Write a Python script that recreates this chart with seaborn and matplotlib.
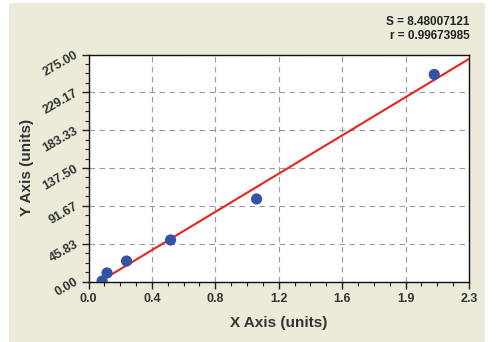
import numpy as np
import pandas as pd
import matplotlib
matplotlib.use("Agg")
import matplotlib.pyplot as plt
from matplotlib.patches import Rectangle
from matplotlib.ticker import AutoMinorLocator
import seaborn as sns

# ---- data ----
x_vals = [0.082, 0.112, 0.23, 0.496, 1.016, 2.09]
y_vals = [0.5, 10.3, 24.8, 50.3, 100.0, 250.8]
fit_x_range = [0.07, 2.3]
x_tick_labels = ["0.0", "0.4", "0.8", "1.2", "1.6", "1.9", "2.3"]
y_tick_labels = ["0.00", "45.83", "91.67", "137.50", "183.33", "229.17", "275.00"]
stats_lines = ["S = 8.48007121", "r = 0.99673985"]
x_max = 2.3
y_max = 275.0

sns.set_style("ticks")
plt.rcParams["font.family"] = ["Liberation Sans", "DejaVu Sans"]

fig = plt.figure(figsize=(5.04, 3.42), dpi=100, facecolor="white")
fig.patches.append(Rectangle((9 / 504, 0), (485 - 9) / 504, 339 / 342,
                             transform=fig.transFigure, facecolor="#ECEAD8",
                             edgecolor="none", zorder=-10))
ax = fig.add_axes([88.5 / 504, 1 - 281.5 / 342, (469 - 88.5) / 504, (281.5 - 54.5) / 342])
ax.set_zorder(1)
ax.set_facecolor("white")

df = pd.DataFrame({"x": x_vals, "y": y_vals})
slope, intercept = np.polyfit(df["x"], df["y"], 1)
fx = np.linspace(fit_x_range[0], fit_x_range[1], 50)
fit_df = pd.DataFrame({"x": fx, "y": slope * fx + intercept})

sns.lineplot(data=fit_df, x="x", y="y", ax=ax, color="#E8231B", linewidth=1.5, zorder=3)
sns.scatterplot(data=df, x="x", y="y", ax=ax, color="#3553A6", s=65, edgecolor="none",
                zorder=4, marker="o")

ax.set_xlim(0, x_max)
ax.set_ylim(0, y_max)
xt = np.linspace(0, x_max, len(x_tick_labels))
yt = np.linspace(0, y_max, len(y_tick_labels))
ax.set_xticks(xt)
ax.set_xticklabels(x_tick_labels, fontsize=9, fontweight="bold", color="#333333")
ax.set_yticks(yt)
ax.set_yticklabels(y_tick_labels, fontsize=9, fontweight="bold", color="#333333",
                   rotation=30, rotation_mode="anchor", ha="right", va="center")
ax.xaxis.set_minor_locator(AutoMinorLocator(4))
ax.yaxis.set_minor_locator(AutoMinorLocator(4))
ax.tick_params(axis="both", which="major", length=5, width=1, color="#222222", direction="out")
ax.tick_params(axis="both", which="minor", length=3, width=0.8, color="#222222", direction="out")
ax.tick_params(axis="x", pad=3)
ax.tick_params(axis="y", pad=3)

ax.grid(True, which="major", color="#9A9A9A", linestyle=(0, (5, 4)), linewidth=0.8)
for s in ax.spines.values():
    s.set_color("#111111")
    s.set_linewidth(1.0)

ax.set_xlabel("X Axis (units)", fontsize=11, fontweight="bold", color="#333333", va="center")
ax.set_ylabel("Y Axis (units)", fontsize=11, fontweight="bold", color="#333333", va="center")
ax.xaxis.set_label_coords(0.5, (281.5 - 323) / 227)
ax.yaxis.set_label_coords((27 - 88.5) / 380.5, (281.5 - 167) / 227)

fig.text(469 / 504, 1 - 22 / 342, stats_lines[0], ha="right", va="center",
         fontsize=8.5, fontweight="bold", color="#222222")
fig.text(470 / 504, 1 - 36 / 342, stats_lines[1], ha="right", va="center",
         fontsize=8.5, fontweight="bold", color="#222222")

fig.savefig("out.png", dpi=100, facecolor=fig.get_facecolor())
